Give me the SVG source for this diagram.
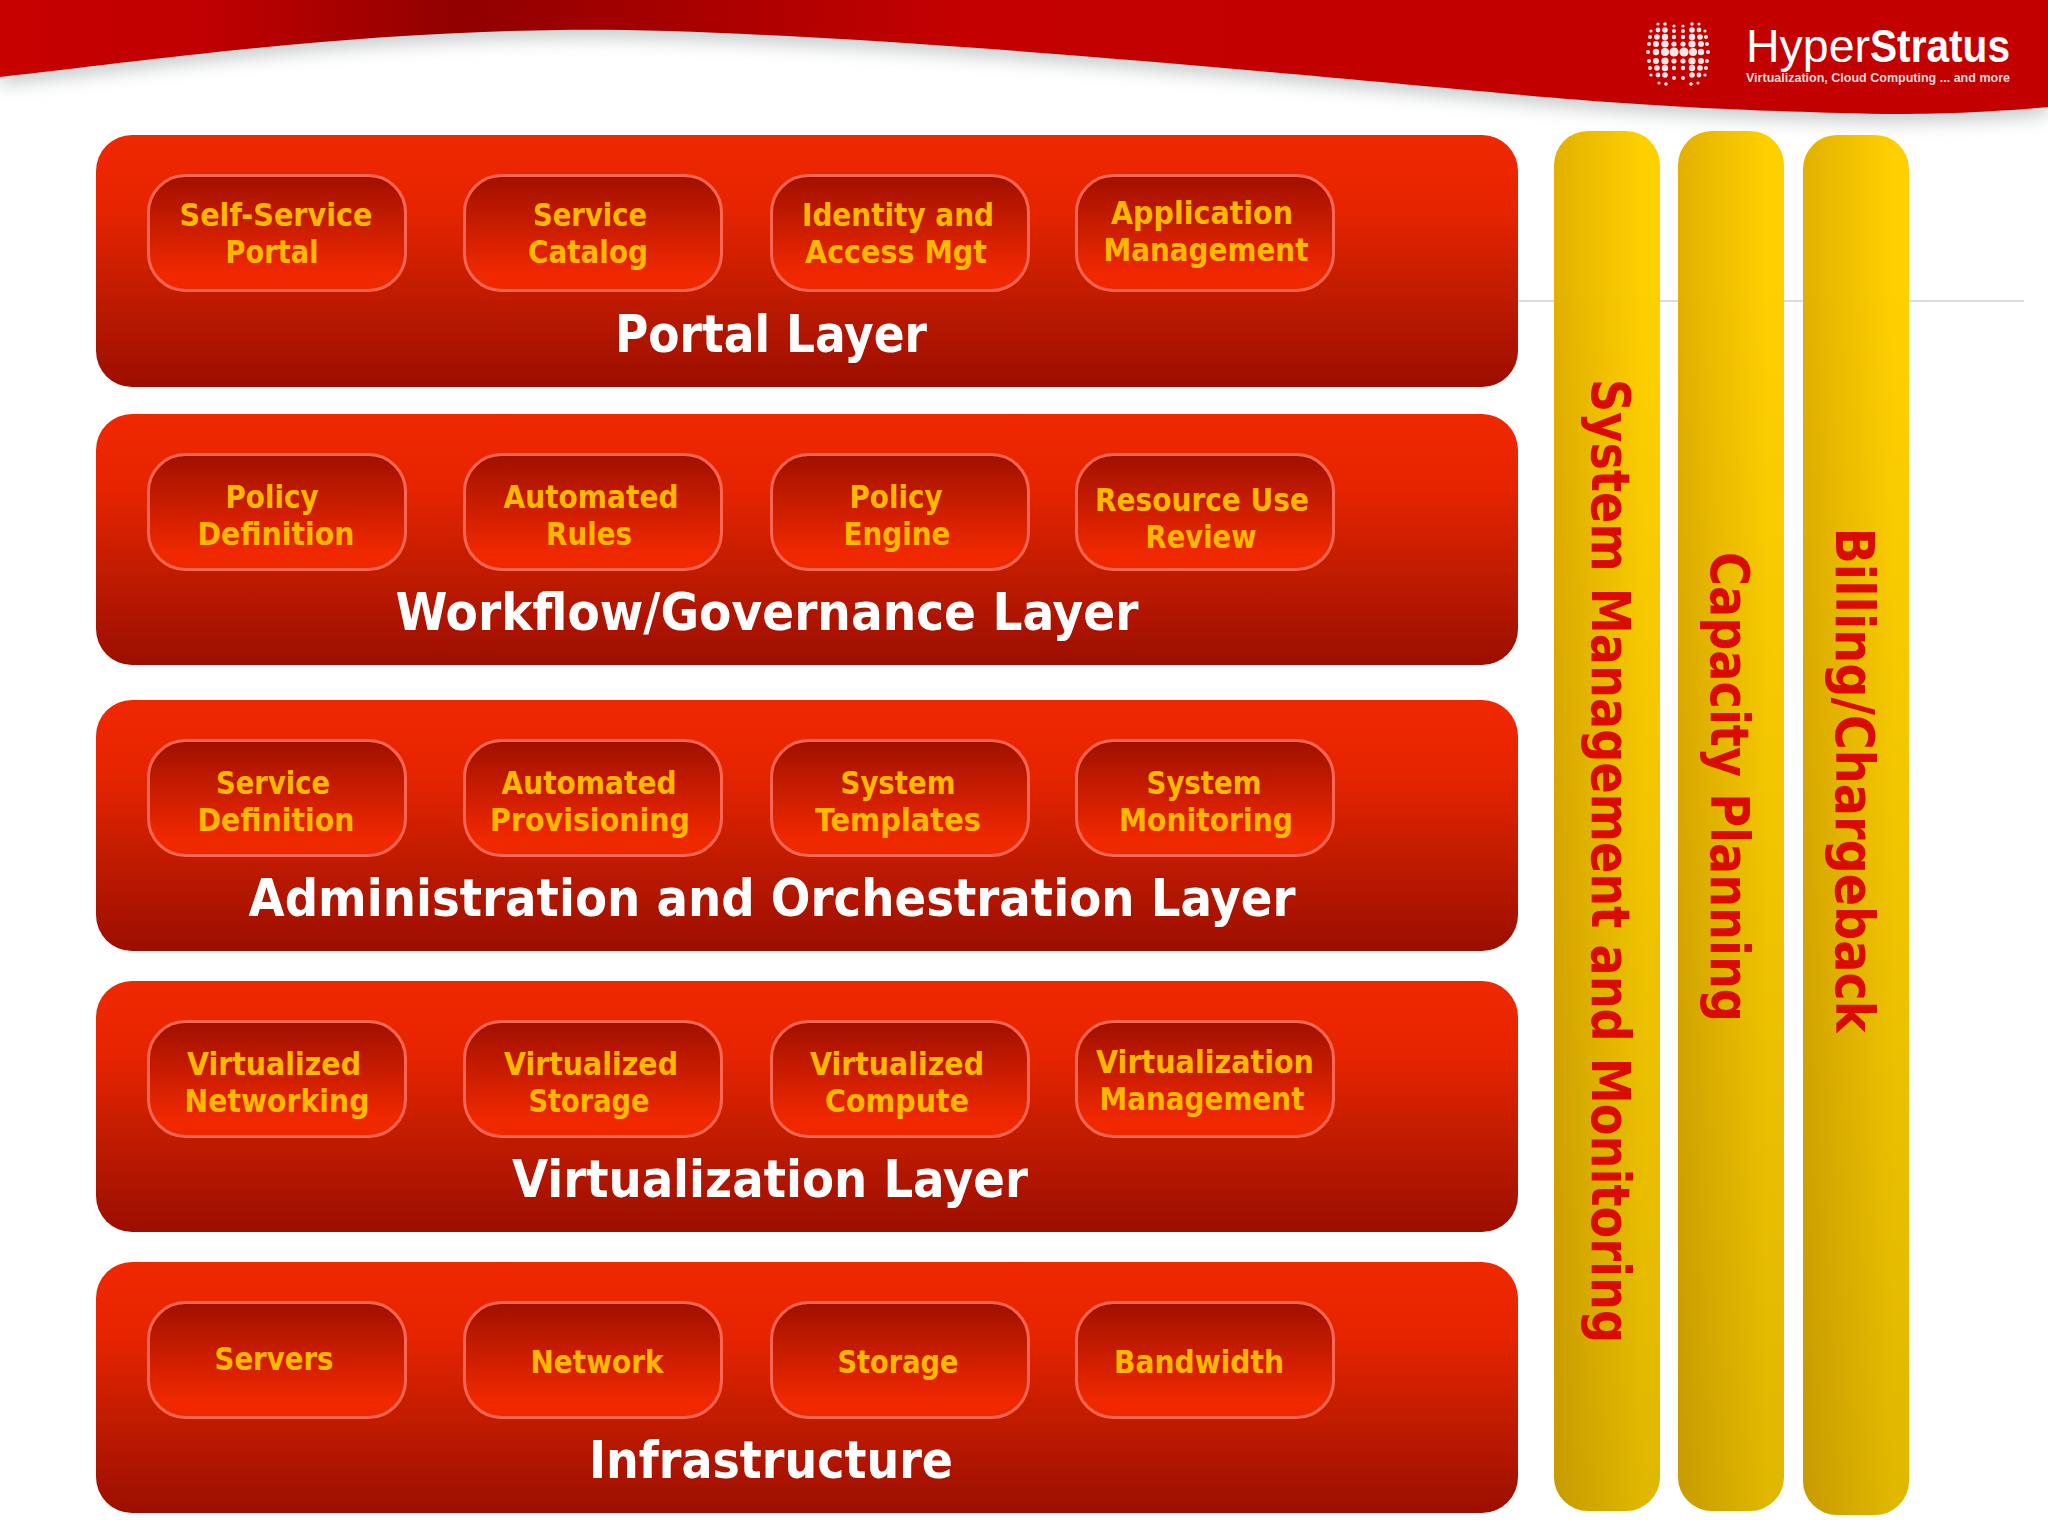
<svg xmlns="http://www.w3.org/2000/svg" width="2048" height="1536" viewBox="0 0 2048 1536">
<defs>
<linearGradient id="ban" x1="0" x2="1" y1="0" y2="0"><stop offset="0" stop-color="#c80000"/><stop offset="0.1" stop-color="#c00000"/><stop offset="0.225" stop-color="#920000"/><stop offset="0.47" stop-color="#c40000"/><stop offset="1" stop-color="#c20000"/></linearGradient>
<linearGradient id="layer" x1="0" x2="0" y1="0" y2="1"><stop offset="0" stop-color="#f02800"/><stop offset="0.3" stop-color="#e62400"/><stop offset="0.6" stop-color="#c41c00"/><stop offset="1" stop-color="#9c0e00"/></linearGradient>
<linearGradient id="pill" x1="0" x2="0" y1="0" y2="1"><stop offset="0" stop-color="#a01000"/><stop offset="0.85" stop-color="#f02800"/><stop offset="1" stop-color="#f02800"/></linearGradient>
<linearGradient id="gold" x1="0" x2="1" y1="0" y2="0"><stop offset="0" stop-color="#e2b000"/><stop offset="0.85" stop-color="#ffd000"/><stop offset="1" stop-color="#ffd000"/></linearGradient>
<linearGradient id="dim" x1="0" x2="0" y1="0" y2="1"><stop offset="0.1" stop-color="#000" stop-opacity="0"/><stop offset="1" stop-color="#000" stop-opacity="0.12"/></linearGradient>
<filter id="blur" x="-5%" y="-50%" width="110%" height="200%"><feGaussianBlur stdDeviation="9"/></filter>
<path id="banner" d="M0,0H2048V107C1980,113 1930,114 1884,114C1700,110 1600,102 1500,93C1250,70 800,27 560,30C350,32 150,60 0,77Z"/>
</defs>
<style>
.l{fill:url(#layer)}
.p{fill:url(#pill);stroke:#ff6655;stroke-width:3}
.t{font-family:"DejaVu Sans Condensed","DejaVu Sans",sans-serif;font-weight:700;text-anchor:middle}
.s{font-size:32px;fill:#ffb800}
.h{font-size:51px;fill:#fff}
.v{font-size:53px;fill:#d80c00}
.d circle{fill:#fff}
</style>
<rect width="2048" height="1536" fill="#fff"/>
<g id="header">
<use href="#banner" y="8" fill="#c8cccc" filter="url(#blur)"/>
<use href="#banner" fill="url(#ban)"/>
<line x1="1518" y1="301" x2="2024" y2="301" stroke="#dcdcdc" stroke-width="2"/>
</g>
<g id="logo">
<g class="d" opacity="0.9">
<g><circle cx="1658" cy="24" r="1.6"/><circle cx="1665" cy="24" r="1.8"/><circle cx="1674" cy="26" r="1.6"/><circle cx="1683" cy="26" r="1.6"/><circle cx="1692" cy="24" r="1.8"/><circle cx="1699" cy="24" r="1.6"/></g>
<g><circle cx="1651" cy="31" r="1.6"/><circle cx="1658" cy="30" r="2.4"/><circle cx="1665" cy="30" r="2.8"/><circle cx="1674" cy="31" r="2"/><circle cx="1683" cy="31" r="2"/><circle cx="1692" cy="30" r="2.8"/><circle cx="1699" cy="30" r="2.4"/><circle cx="1705" cy="31" r="1.6"/></g>
<g><circle cx="1650" cy="37" r="2"/><circle cx="1657" cy="37" r="2.8"/><circle cx="1665" cy="37" r="3.2"/><circle cx="1674" cy="37" r="2.2"/><circle cx="1683" cy="37" r="2.2"/><circle cx="1692" cy="37" r="3.2"/><circle cx="1700" cy="37" r="2.8"/><circle cx="1706" cy="37" r="2"/></g>
<g><circle cx="1649" cy="44" r="2"/><circle cx="1656" cy="44" r="3"/><circle cx="1665" cy="44" r="3.6"/><circle cx="1674" cy="44" r="2.6"/><circle cx="1683" cy="44" r="2.6"/><circle cx="1692" cy="44" r="3.6"/><circle cx="1701" cy="44" r="3"/><circle cx="1707" cy="44" r="2"/></g>
<g><circle cx="1648" cy="52" r="2"/><circle cx="1656" cy="52" r="3.2"/><circle cx="1665" cy="52" r="4"/><circle cx="1674" cy="52" r="4.6"/><circle cx="1684" cy="52" r="4.6"/><circle cx="1693" cy="52" r="4"/><circle cx="1701" cy="52" r="3.2"/><circle cx="1708" cy="52" r="2"/></g>
<g><circle cx="1649" cy="61" r="2"/><circle cx="1656" cy="61" r="3"/><circle cx="1665" cy="61" r="3.6"/><circle cx="1674" cy="61" r="2.6"/><circle cx="1683" cy="61" r="2.6"/><circle cx="1692" cy="61" r="3.6"/><circle cx="1701" cy="61" r="3"/><circle cx="1707" cy="61" r="2"/></g>
<g><circle cx="1650" cy="68" r="2"/><circle cx="1657" cy="68" r="2.8"/><circle cx="1665" cy="68" r="3.2"/><circle cx="1674" cy="68" r="2.2"/><circle cx="1683" cy="68" r="2.2"/><circle cx="1692" cy="68" r="3.2"/><circle cx="1700" cy="68" r="2.8"/><circle cx="1706" cy="68" r="2"/></g>
<g><circle cx="1651" cy="75" r="1.6"/><circle cx="1658" cy="75" r="2.4"/><circle cx="1665" cy="75" r="2.8"/><circle cx="1674" cy="78" r="2"/><circle cx="1683" cy="78" r="2"/><circle cx="1692" cy="75" r="2.8"/><circle cx="1699" cy="75" r="2.4"/><circle cx="1705" cy="75" r="1.6"/></g>
<g><circle cx="1659" cy="83" r="1.6"/><circle cx="1666" cy="84" r="1.8"/><circle cx="1691" cy="84" r="1.8"/><circle cx="1698" cy="83" r="1.6"/></g>
</g>
<text x="1746" y="62" font-family="'Liberation Sans',sans-serif" font-size="47" fill="#fff" textLength="124" lengthAdjust="spacingAndGlyphs">Hyper</text>
<text x="1870" y="62" font-family="'Liberation Sans',sans-serif" font-weight="700" font-size="47" fill="#fff" textLength="140" lengthAdjust="spacingAndGlyphs">Stratus</text>
<text x="1746" y="82" font-family="'Liberation Sans',sans-serif" font-weight="700" font-size="13" fill="#fff" fill-opacity="0.85" textLength="264" lengthAdjust="spacingAndGlyphs">Virtualization, Cloud Computing ... and more</text>
</g>
<g id="connectors"/>
<g id="portal-layer">
<rect class="l" x="96" y="135" width="1422" height="252" rx="36"/>
<text class="t h" x="771" y="352" textLength="312" lengthAdjust="spacingAndGlyphs">Portal Layer</text>
</g>
<g id="self-service-portal"><rect class="p" x="148.500" y="175.500" width="257" height="115" rx="37"/><text class="t s" x="276" y="226" textLength="193" lengthAdjust="spacingAndGlyphs">Self-Service</text><text class="t s" x="272" y="263" textLength="93" lengthAdjust="spacingAndGlyphs">Portal</text></g>
<g id="service-catalog"><rect class="p" x="464.500" y="175.500" width="257" height="115" rx="37"/><text class="t s" x="590" y="226" textLength="114" lengthAdjust="spacingAndGlyphs">Service</text><text class="t s" x="588" y="263" textLength="120" lengthAdjust="spacingAndGlyphs">Catalog</text></g>
<g id="identity-access"><rect class="p" x="771.500" y="175.500" width="257" height="115" rx="37"/><text class="t s" x="898" y="226" textLength="192" lengthAdjust="spacingAndGlyphs">Identity and</text><text class="t s" x="896" y="263" textLength="182" lengthAdjust="spacingAndGlyphs">Access Mgt</text></g>
<g id="application-management"><rect class="p" x="1076.500" y="175.500" width="257" height="115" rx="37"/><text class="t s" x="1202" y="224" textLength="182" lengthAdjust="spacingAndGlyphs">Application</text><text class="t s" x="1206" y="261" textLength="205" lengthAdjust="spacingAndGlyphs">Management</text></g>

<g id="workflow-layer">
<rect class="l" x="96" y="414" width="1422" height="251" rx="36"/>
<text class="t h" x="767" y="630" textLength="743" lengthAdjust="spacingAndGlyphs">Workflow/Governance Layer</text>
</g>
<g id="policy-definition"><rect class="p" x="148.500" y="454.500" width="257" height="115" rx="37"/><text class="t s" x="272" y="508" textLength="93" lengthAdjust="spacingAndGlyphs">Policy</text><text class="t s" x="276" y="545" textLength="157" lengthAdjust="spacingAndGlyphs">Definition</text></g>
<g id="automated-rules"><rect class="p" x="464.500" y="454.500" width="257" height="115" rx="37"/><text class="t s" x="591" y="508" textLength="175" lengthAdjust="spacingAndGlyphs">Automated</text><text class="t s" x="589" y="545" textLength="86" lengthAdjust="spacingAndGlyphs">Rules</text></g>
<g id="policy-engine"><rect class="p" x="771.500" y="454.500" width="257" height="115" rx="37"/><text class="t s" x="896" y="508" textLength="93" lengthAdjust="spacingAndGlyphs">Policy</text><text class="t s" x="897" y="545" textLength="107" lengthAdjust="spacingAndGlyphs">Engine</text></g>
<g id="resource-use-review"><rect class="p" x="1076.500" y="454.500" width="257" height="115" rx="37"/><text class="t s" x="1202" y="511" textLength="214" lengthAdjust="spacingAndGlyphs">Resource Use</text><text class="t s" x="1201" y="548" textLength="111" lengthAdjust="spacingAndGlyphs">Review</text></g>

<g id="administration-layer">
<rect class="l" x="96" y="700" width="1422" height="251" rx="36"/>
<text class="t h" x="772" y="916" textLength="1047" lengthAdjust="spacingAndGlyphs">Administration and Orchestration Layer</text>
</g>
<g id="service-definition"><rect class="p" x="148.500" y="740.500" width="257" height="115" rx="37"/><text class="t s" x="273" y="794" textLength="114" lengthAdjust="spacingAndGlyphs">Service</text><text class="t s" x="276" y="831" textLength="157" lengthAdjust="spacingAndGlyphs">Definition</text></g>
<g id="automated-provisioning"><rect class="p" x="464.500" y="740.500" width="257" height="115" rx="37"/><text class="t s" x="589" y="794" textLength="175" lengthAdjust="spacingAndGlyphs">Automated</text><text class="t s" x="590" y="831" textLength="200" lengthAdjust="spacingAndGlyphs">Provisioning</text></g>
<g id="system-templates"><rect class="p" x="771.500" y="740.500" width="257" height="115" rx="37"/><text class="t s" x="898" y="794" textLength="115" lengthAdjust="spacingAndGlyphs">System</text><text class="t s" x="898" y="831" textLength="166" lengthAdjust="spacingAndGlyphs">Templates</text></g>
<g id="system-monitoring"><rect class="p" x="1076.500" y="740.500" width="257" height="115" rx="37"/><text class="t s" x="1204" y="794" textLength="115" lengthAdjust="spacingAndGlyphs">System</text><text class="t s" x="1206" y="831" textLength="174" lengthAdjust="spacingAndGlyphs">Monitoring</text></g>

<g id="virtualization-layer">
<rect class="l" x="96" y="981" width="1422" height="251" rx="36"/>
<text class="t h" x="770" y="1197" textLength="516" lengthAdjust="spacingAndGlyphs">Virtualization Layer</text>
</g>
<g id="virtualized-networking"><rect class="p" x="148.500" y="1021.500" width="257" height="115" rx="37"/><text class="t s" x="274" y="1075" textLength="174" lengthAdjust="spacingAndGlyphs">Virtualized</text><text class="t s" x="277" y="1112" textLength="185" lengthAdjust="spacingAndGlyphs">Networking</text></g>
<g id="virtualized-storage"><rect class="p" x="464.500" y="1021.500" width="257" height="115" rx="37"/><text class="t s" x="591" y="1075" textLength="174" lengthAdjust="spacingAndGlyphs">Virtualized</text><text class="t s" x="589" y="1112" textLength="121" lengthAdjust="spacingAndGlyphs">Storage</text></g>
<g id="virtualized-compute"><rect class="p" x="771.500" y="1021.500" width="257" height="115" rx="37"/><text class="t s" x="897" y="1075" textLength="174" lengthAdjust="spacingAndGlyphs">Virtualized</text><text class="t s" x="897" y="1112" textLength="144" lengthAdjust="spacingAndGlyphs">Compute</text></g>
<g id="virtualization-management"><rect class="p" x="1076.500" y="1021.500" width="257" height="115" rx="37"/><text class="t s" x="1205" y="1073" textLength="218" lengthAdjust="spacingAndGlyphs">Virtualization</text><text class="t s" x="1202" y="1110" textLength="205" lengthAdjust="spacingAndGlyphs">Management</text></g>

<g id="infrastructure-layer">
<rect class="l" x="96" y="1262" width="1422" height="251" rx="36"/>
<text class="t h" x="771" y="1478" textLength="364" lengthAdjust="spacingAndGlyphs">Infrastructure</text>
</g>
<g id="servers"><rect class="p" x="148.500" y="1302.500" width="257" height="115" rx="37"/><text class="t s" x="274" y="1370" textLength="119" lengthAdjust="spacingAndGlyphs">Servers</text></g>
<g id="network"><rect class="p" x="464.500" y="1302.500" width="257" height="115" rx="37"/><text class="t s" x="597" y="1373" textLength="133" lengthAdjust="spacingAndGlyphs">Network</text></g>
<g id="storage"><rect class="p" x="771.500" y="1302.500" width="257" height="115" rx="37"/><text class="t s" x="898" y="1373" textLength="121" lengthAdjust="spacingAndGlyphs">Storage</text></g>
<g id="bandwidth"><rect class="p" x="1076.500" y="1302.500" width="257" height="115" rx="37"/><text class="t s" x="1199" y="1373" textLength="170" lengthAdjust="spacingAndGlyphs">Bandwidth</text></g>

<g id="system-management">
<rect x="1554" y="131" width="106" height="1380" rx="34" fill="url(#gold)"/>
<rect x="1554" y="131" width="106" height="1380" rx="34" fill="url(#dim)"/>
<text class="t v" transform="translate(1592,861) rotate(90)" textLength="964" lengthAdjust="spacingAndGlyphs">System Management and Monitoring</text>
</g>
<g id="capacity-planning">
<rect x="1678" y="131" width="106" height="1380" rx="34" fill="url(#gold)"/>
<rect x="1678" y="131" width="106" height="1380" rx="34" fill="url(#dim)"/>
<text class="t v" transform="translate(1711,787) rotate(90)" textLength="470" lengthAdjust="spacingAndGlyphs">Capacity Planning</text>
</g>
<g id="billing-chargeback">
<rect x="1803" y="135" width="106" height="1380" rx="34" fill="url(#gold)"/>
<rect x="1803" y="135" width="106" height="1380" rx="34" fill="url(#dim)"/>
<text class="t v" transform="translate(1836,780) rotate(90)" textLength="505" lengthAdjust="spacingAndGlyphs">Billing/Chargeback</text>
</g>
</svg>
